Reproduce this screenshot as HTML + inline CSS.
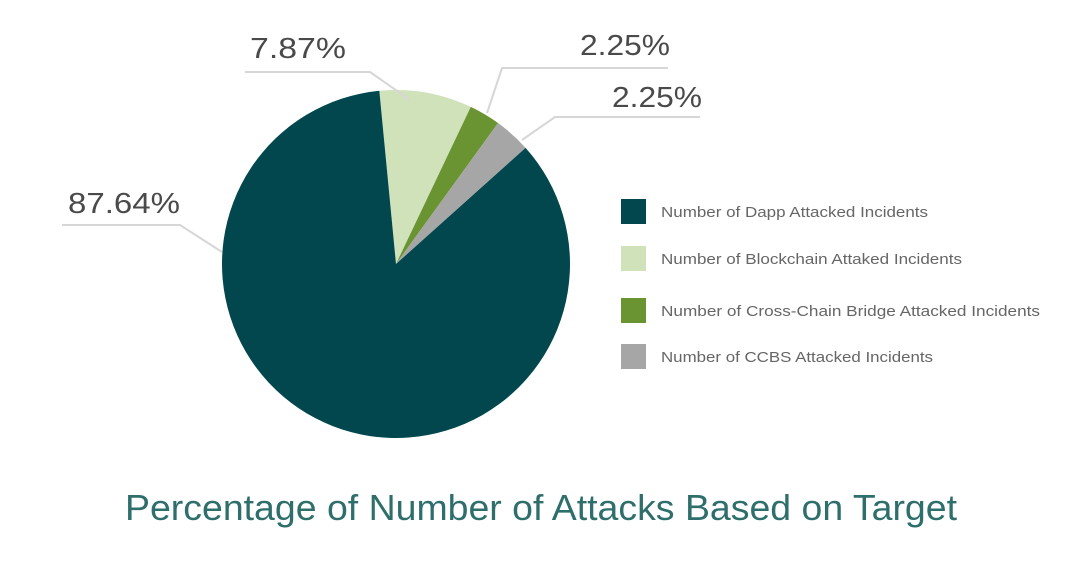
<!DOCTYPE html>
<html><head><meta charset="utf-8"><style>
html,body{margin:0;padding:0;background:#fff;}
svg{display:block;font-family:"Liberation Sans",sans-serif;}
</style></head><body>
<svg id="chart" width="1086" height="572" viewBox="0 0 1086 572">
<g id="slices"></g>
<g id="leaders"></g>
<g id="legend"></g>
<text x="541" y="520" text-anchor="middle" font-size="36" fill="#2f6f6b" textLength="832" lengthAdjust="spacingAndGlyphs">Percentage of Number of Attacks Based on Target</text>
</svg>
<script>
const categories = ["Number of Blockchain Attaked Incidents","Number of Cross-Chain Bridge Attacked Incidents","Number of CCBS Attacked Incidents","Number of Dapp Attacked Incidents"];
const sliceValues = [8.6, 2.9, 3.4, 85.1];
const printedLabels = ["7.87%","2.25%","2.25%","87.64%"];
const legendOrder = [3,0,1,2];
const colors = ["#d0e2b9","#6a9332","#a6a6a6","#01474d"];
const cx=396, cy=264, r=174, startDeg=-5.5;
const NS="http://www.w3.org/2000/svg";
function pt(deg,rad){const a=deg*Math.PI/180;return [cx+rad*Math.sin(a), cy-rad*Math.cos(a)];}
const total=sliceValues.reduce((a,b)=>a+b,0);
const sg=document.getElementById('slices');
let acc=startDeg; const mids=[];
sliceValues.forEach((v,i)=>{
  const a0=acc, a1=acc+v/total*360; acc=a1; mids.push((a0+a1)/2);
  const p0=pt(a0,r), p1=pt(a1,r);
  const path=document.createElementNS(NS,'path');
  path.setAttribute('d',`M${cx},${cy}L${p0[0]},${p0[1]}A${r},${r} 0 ${a1-a0>180?1:0} 1 ${p1[0]},${p1[1]}Z`);
  path.setAttribute('fill',colors[i]);
  
  
  sg.appendChild(path);
});
// leader label layout (positions, not data)
const lay=[
 {start:[410,100], elbow:[370,72], end:245, tx:298, ty:58, w:96},
 {start:[487,113], elbow:[502,68], end:668, tx:625, ty:55, w:90},
 {start:[522,140], elbow:[555,117], end:700, tx:657, ty:107, w:90},
 {start:[222,252], elbow:[180,225], end:62, tx:124, ty:213, w:112}
];
const lg=document.getElementById('leaders');
printedLabels.forEach((t,i)=>{
  const L=lay[i];
  const pl=document.createElementNS(NS,'polyline');
  pl.setAttribute('points',`${L.start[0]},${L.start[1]} ${L.elbow[0]},${L.elbow[1]} ${L.end},${L.elbow[1]}`);
  pl.setAttribute('fill','none');pl.setAttribute('stroke','#d6d6d6');pl.setAttribute('stroke-width','2');
  
  
  lg.appendChild(pl);
  const tx=document.createElementNS(NS,'text');
  tx.setAttribute('x',L.tx);tx.setAttribute('y',L.ty);tx.setAttribute('text-anchor','middle');
  tx.setAttribute('font-size','29');tx.setAttribute('fill','#4a4a4a');
  tx.setAttribute('textLength',L.w);tx.setAttribute('lengthAdjust','spacingAndGlyphs');
  tx.textContent=t;
  
  
  lg.appendChild(tx);
});
const legY=[212,259,311,357];
const legW=[267,301,379,272];
const leg=document.getElementById('legend');
legendOrder.forEach((ci,k)=>{
  const g=document.createElementNS(NS,'g');
  
  
  const rc=document.createElementNS(NS,'rect');
  rc.setAttribute('x',621);rc.setAttribute('y',legY[k]-13);rc.setAttribute('width',25);rc.setAttribute('height',25);rc.setAttribute('fill',colors[ci]);
  
  
  const tx=document.createElementNS(NS,'text');
  tx.setAttribute('x',661);tx.setAttribute('y',legY[k]+5);tx.setAttribute('font-size','15');tx.setAttribute('fill','#666');
  tx.setAttribute('textLength',legW[k]);tx.setAttribute('lengthAdjust','spacingAndGlyphs');
  tx.textContent=categories[ci];
  
  
  g.appendChild(rc);g.appendChild(tx);leg.appendChild(g);
});
</script>
</body></html>
